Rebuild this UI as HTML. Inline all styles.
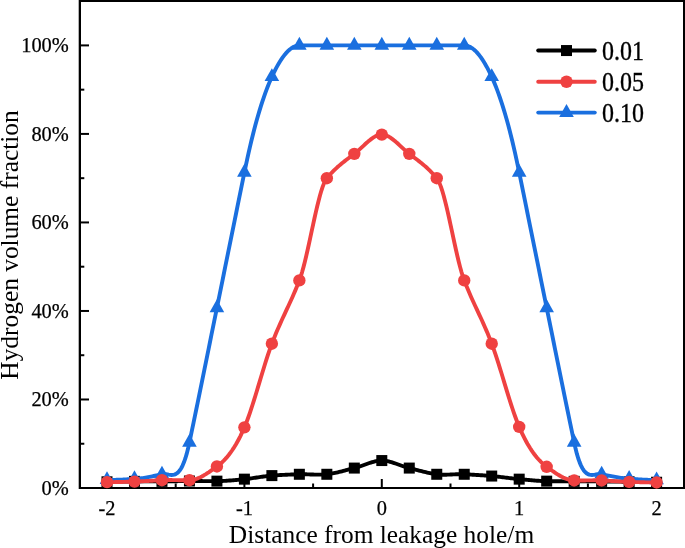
<!DOCTYPE html>
<html><head><meta charset="utf-8"><style>
html,body{margin:0;padding:0;background:#fff;}
svg{display:block;will-change:transform;}
text{font-family:"Liberation Serif", serif;}
</style></head><body>
<svg width="685" height="548" viewBox="0 0 685 548">
<rect width="685" height="548" fill="#fff"/>
<g stroke="#000" stroke-width="2" fill="none"><line x1="80" y1="488.00" x2="89" y2="488.00"/><line x1="80" y1="399.48" x2="89" y2="399.48"/><line x1="80" y1="310.96" x2="89" y2="310.96"/><line x1="80" y1="222.44" x2="89" y2="222.44"/><line x1="80" y1="133.92" x2="89" y2="133.92"/><line x1="80" y1="45.40" x2="89" y2="45.40"/><line x1="80" y1="443.74" x2="84.3" y2="443.74"/><line x1="80" y1="355.22" x2="84.3" y2="355.22"/><line x1="80" y1="266.70" x2="84.3" y2="266.70"/><line x1="80" y1="178.18" x2="84.3" y2="178.18"/><line x1="80" y1="89.66" x2="84.3" y2="89.66"/><line x1="107.00" y1="488" x2="107.00" y2="479"/><line x1="244.40" y1="488" x2="244.40" y2="479"/><line x1="381.80" y1="488" x2="381.80" y2="479"/><line x1="519.20" y1="488" x2="519.20" y2="479"/><line x1="656.60" y1="488" x2="656.60" y2="479"/><line x1="175.70" y1="488" x2="175.70" y2="483.5"/><line x1="313.10" y1="488" x2="313.10" y2="483.5"/><line x1="450.50" y1="488" x2="450.50" y2="483.5"/><line x1="587.90" y1="488" x2="587.90" y2="483.5"/></g>
<g fill="#000">
<rect x="78.7" y="0" width="2.3" height="489"/>
<rect x="683" y="0" width="2" height="489"/>
<rect x="79" y="0" width="606" height="2"/>
<rect x="79" y="487" width="606" height="2"/>
</g>
<g fill="none" stroke-linejoin="round" stroke-linecap="round" stroke-width="3.9">
<path d="M107.00,481.80 L108.37,481.77 L109.75,481.74 L111.12,481.71 L112.50,481.68 L113.87,481.65 L115.24,481.62 L116.62,481.60 L117.99,481.57 L119.37,481.55 L120.74,481.52 L122.11,481.50 L123.49,481.48 L124.86,481.46 L126.24,481.44 L127.61,481.43 L128.98,481.41 L130.36,481.40 L131.73,481.38 L133.11,481.37 L134.48,481.36 L135.85,481.35 L137.23,481.35 L138.60,481.34 L139.98,481.34 L141.35,481.34 L142.72,481.34 L144.10,481.35 L145.47,481.35 L146.85,481.35 L148.22,481.36 L149.59,481.36 L150.97,481.37 L152.34,481.37 L153.72,481.37 L155.09,481.38 L156.46,481.38 L157.84,481.38 L159.21,481.37 L160.59,481.37 L161.96,481.36 L163.33,481.35 L164.71,481.34 L166.08,481.33 L167.46,481.31 L168.83,481.30 L170.20,481.28 L171.58,481.26 L172.95,481.24 L174.33,481.22 L175.70,481.20 L177.07,481.18 L178.45,481.16 L179.82,481.14 L181.20,481.11 L182.57,481.09 L183.94,481.07 L185.32,481.06 L186.69,481.04 L188.07,481.02 L189.44,481.01 L190.81,481.00 L192.19,480.99 L193.56,480.99 L194.94,481.00 L196.31,481.01 L197.68,481.02 L199.06,481.03 L200.43,481.05 L201.81,481.07 L203.18,481.08 L204.55,481.10 L205.93,481.12 L207.30,481.14 L208.68,481.15 L210.05,481.16 L211.42,481.16 L212.80,481.17 L214.17,481.16 L215.55,481.15 L216.92,481.14 L218.29,481.11 L219.67,481.08 L221.04,481.03 L222.42,480.97 L223.79,480.90 L225.16,480.83 L226.54,480.74 L227.91,480.65 L229.29,480.55 L230.66,480.44 L232.03,480.33 L233.41,480.21 L234.78,480.09 L236.16,479.96 L237.53,479.83 L238.90,479.70 L240.28,479.56 L241.65,479.42 L243.03,479.29 L244.40,479.15 L245.77,479.00 L247.15,478.85 L248.52,478.68 L249.90,478.50 L251.27,478.32 L252.64,478.13 L254.02,477.93 L255.39,477.73 L256.77,477.53 L258.14,477.33 L259.51,477.13 L260.89,476.93 L262.26,476.73 L263.64,476.54 L265.01,476.36 L266.38,476.19 L267.76,476.02 L269.13,475.87 L270.51,475.73 L271.88,475.61 L273.25,475.49 L274.63,475.39 L276.00,475.29 L277.38,475.20 L278.75,475.12 L280.12,475.04 L281.50,474.96 L282.87,474.90 L284.25,474.83 L285.62,474.77 L286.99,474.72 L288.37,474.66 L289.74,474.61 L291.12,474.56 L292.49,474.51 L293.86,474.47 L295.24,474.42 L296.61,474.37 L297.99,474.33 L299.36,474.28 L300.73,474.24 L302.11,474.23 L303.48,474.23 L304.86,474.25 L306.23,474.29 L307.60,474.33 L308.98,474.38 L310.35,474.44 L311.73,474.49 L313.10,474.54 L314.47,474.59 L315.85,474.63 L317.22,474.66 L318.60,474.67 L319.97,474.67 L321.34,474.64 L322.72,474.60 L324.09,474.52 L325.47,474.42 L326.84,474.28 L328.21,474.11 L329.59,473.91 L330.96,473.69 L332.34,473.45 L333.71,473.18 L335.08,472.90 L336.46,472.60 L337.83,472.28 L339.21,471.96 L340.58,471.62 L341.95,471.27 L343.33,470.91 L344.70,470.56 L346.08,470.19 L347.45,469.83 L348.82,469.47 L350.20,469.11 L351.57,468.76 L352.95,468.42 L354.32,468.08 L355.69,467.73 L357.07,467.34 L358.44,466.91 L359.82,466.46 L361.19,465.98 L362.56,465.49 L363.94,464.99 L365.31,464.49 L366.69,463.99 L368.06,463.50 L369.43,463.03 L370.81,462.58 L372.18,462.15 L373.56,461.77 L374.93,461.43 L376.30,461.13 L377.68,460.89 L379.05,460.71 L380.43,460.60 L381.80,460.56 L383.17,460.60 L384.55,460.71 L385.92,460.89 L387.30,461.13 L388.67,461.43 L390.04,461.77 L391.42,462.15 L392.79,462.58 L394.17,463.03 L395.54,463.50 L396.91,463.99 L398.29,464.49 L399.66,464.99 L401.04,465.49 L402.41,465.98 L403.78,466.46 L405.16,466.91 L406.53,467.34 L407.91,467.73 L409.28,468.08 L410.65,468.42 L412.03,468.76 L413.40,469.11 L414.78,469.46 L416.15,469.81 L417.52,470.17 L418.90,470.52 L420.27,470.87 L421.65,471.22 L423.02,471.56 L424.39,471.90 L425.77,472.22 L427.14,472.53 L428.52,472.84 L429.89,473.12 L431.26,473.39 L432.64,473.65 L434.01,473.88 L435.39,474.09 L436.76,474.28 L438.13,474.44 L439.51,474.55 L440.88,474.64 L442.26,474.69 L443.63,474.71 L445.00,474.71 L446.38,474.69 L447.75,474.65 L449.13,474.60 L450.50,474.54 L451.87,474.48 L453.25,474.41 L454.62,474.35 L456.00,474.29 L457.37,474.24 L458.74,474.21 L460.12,474.19 L461.49,474.19 L462.87,474.22 L464.24,474.28 L465.61,474.35 L466.99,474.42 L468.36,474.50 L469.74,474.57 L471.11,474.64 L472.48,474.71 L473.86,474.79 L475.23,474.86 L476.61,474.94 L477.98,475.02 L479.35,475.11 L480.73,475.19 L482.10,475.28 L483.48,475.38 L484.85,475.48 L486.22,475.58 L487.60,475.69 L488.97,475.80 L490.35,475.92 L491.72,476.05 L493.09,476.18 L494.47,476.32 L495.84,476.47 L497.22,476.62 L498.59,476.77 L499.96,476.93 L501.34,477.10 L502.71,477.26 L504.09,477.43 L505.46,477.59 L506.83,477.76 L508.21,477.93 L509.58,478.09 L510.96,478.26 L512.33,478.42 L513.70,478.57 L515.08,478.72 L516.45,478.87 L517.83,479.01 L519.20,479.15 L520.57,479.28 L521.95,479.41 L523.32,479.54 L524.70,479.67 L526.07,479.80 L527.44,479.93 L528.82,480.06 L530.19,480.18 L531.57,480.29 L532.94,480.41 L534.31,480.51 L535.69,480.62 L537.06,480.71 L538.44,480.80 L539.81,480.88 L541.18,480.95 L542.56,481.01 L543.93,481.07 L545.31,481.11 L546.68,481.14 L548.05,481.16 L549.43,481.19 L550.80,481.21 L552.18,481.23 L553.55,481.24 L554.92,481.26 L556.30,481.27 L557.67,481.29 L559.05,481.30 L560.42,481.31 L561.79,481.32 L563.17,481.33 L564.54,481.33 L565.92,481.34 L567.29,481.34 L568.66,481.35 L570.04,481.35 L571.41,481.36 L572.79,481.36 L574.16,481.36 L575.53,481.36 L576.91,481.36 L578.28,481.36 L579.66,481.35 L581.03,481.35 L582.40,481.34 L583.78,481.33 L585.15,481.32 L586.53,481.32 L587.90,481.31 L589.27,481.31 L590.65,481.30 L592.02,481.30 L593.40,481.30 L594.77,481.30 L596.14,481.31 L597.52,481.31 L598.89,481.33 L600.27,481.34 L601.64,481.36 L603.01,481.38 L604.39,481.41 L605.76,481.43 L607.14,481.45 L608.51,481.47 L609.88,481.49 L611.26,481.52 L612.63,481.54 L614.01,481.56 L615.38,481.58 L616.75,481.60 L618.13,481.63 L619.50,481.65 L620.88,481.67 L622.25,481.69 L623.62,481.72 L625.00,481.74 L626.37,481.76 L627.75,481.78 L629.12,481.80 L630.49,481.83 L631.87,481.85 L633.24,481.87 L634.62,481.89 L635.99,481.91 L637.36,481.94 L638.74,481.96 L640.11,481.98 L641.49,482.00 L642.86,482.02 L644.23,482.05 L645.61,482.07 L646.98,482.09 L648.36,482.11 L649.73,482.14 L651.10,482.16 L652.48,482.18 L653.85,482.20 L655.23,482.22 L656.60,482.25" stroke="#000000"/>
</g>
<g fill="#000000"><rect x="101.50" y="476.30" width="11.0" height="11.0"/><rect x="128.98" y="475.86" width="11.0" height="11.0"/><rect x="156.46" y="475.86" width="11.0" height="11.0"/><rect x="183.94" y="475.51" width="11.0" height="11.0"/><rect x="211.42" y="475.64" width="11.0" height="11.0"/><rect x="238.90" y="473.65" width="11.0" height="11.0"/><rect x="266.38" y="470.11" width="11.0" height="11.0"/><rect x="293.86" y="468.78" width="11.0" height="11.0"/><rect x="321.34" y="468.78" width="11.0" height="11.0"/><rect x="348.82" y="462.58" width="11.0" height="11.0"/><rect x="376.30" y="455.06" width="11.0" height="11.0"/><rect x="403.78" y="462.58" width="11.0" height="11.0"/><rect x="431.26" y="468.78" width="11.0" height="11.0"/><rect x="458.74" y="468.78" width="11.0" height="11.0"/><rect x="486.22" y="470.55" width="11.0" height="11.0"/><rect x="513.70" y="473.65" width="11.0" height="11.0"/><rect x="541.18" y="475.64" width="11.0" height="11.0"/><rect x="568.66" y="475.86" width="11.0" height="11.0"/><rect x="596.14" y="475.86" width="11.0" height="11.0"/><rect x="623.62" y="476.30" width="11.0" height="11.0"/><rect x="651.10" y="476.75" width="11.0" height="11.0"/></g>
<g fill="none" stroke-linejoin="round" stroke-linecap="round" stroke-width="3.9">
<path d="M107.00,479.81 L108.37,479.85 L109.75,479.88 L111.12,479.89 L112.50,479.89 L113.87,479.88 L115.24,479.85 L116.62,479.82 L117.99,479.77 L119.37,479.72 L120.74,479.66 L122.11,479.60 L123.49,479.53 L124.86,479.45 L126.24,479.38 L127.61,479.30 L128.98,479.22 L130.36,479.14 L131.73,479.07 L133.11,479.00 L134.48,478.93 L135.85,478.85 L137.23,478.74 L138.60,478.61 L139.98,478.45 L141.35,478.27 L142.72,478.08 L144.10,477.87 L145.47,477.64 L146.85,477.39 L148.22,477.14 L149.59,476.87 L150.97,476.59 L152.34,476.31 L153.72,476.02 L155.09,475.73 L156.46,475.44 L157.84,475.14 L159.21,474.85 L160.59,474.56 L161.96,474.28 L163.33,474.11 L164.71,474.11 L166.08,474.25 L167.46,474.45 L168.83,474.67 L170.20,474.84 L171.58,474.93 L172.95,474.86 L174.33,474.59 L175.70,474.06 L177.07,473.21 L178.45,472.00 L179.82,470.36 L181.20,468.25 L182.57,465.59 L183.94,462.36 L185.32,458.47 L186.69,453.89 L188.07,448.56 L189.44,442.41 L190.81,435.83 L192.19,429.22 L193.56,422.59 L194.94,415.94 L196.31,409.26 L197.68,402.56 L199.06,395.85 L200.43,389.12 L201.81,382.38 L203.18,375.62 L204.55,368.86 L205.93,362.08 L207.30,355.31 L208.68,348.52 L210.05,341.74 L211.42,334.96 L212.80,328.18 L214.17,321.40 L215.55,314.63 L216.92,307.86 L218.29,301.10 L219.67,294.33 L221.04,287.56 L222.42,280.79 L223.79,274.01 L225.16,267.23 L226.54,260.45 L227.91,253.67 L229.29,246.89 L230.66,240.11 L232.03,233.33 L233.41,226.55 L234.78,219.77 L236.16,212.99 L237.53,206.22 L238.90,199.45 L240.28,192.69 L241.65,185.93 L243.03,179.17 L244.40,172.43 L245.77,165.79 L247.15,159.36 L248.52,153.14 L249.90,147.13 L251.27,141.32 L252.64,135.71 L254.02,130.30 L255.39,125.08 L256.77,120.06 L258.14,115.23 L259.51,110.59 L260.89,106.13 L262.26,101.85 L263.64,97.76 L265.01,93.84 L266.38,90.10 L267.76,86.53 L269.13,83.13 L270.51,79.89 L271.88,76.82 L273.25,73.90 L274.63,71.11 L276.00,68.44 L277.38,65.91 L278.75,63.52 L280.12,61.26 L281.50,59.14 L282.87,57.16 L284.25,55.33 L285.62,53.65 L286.99,52.11 L288.37,50.73 L289.74,49.50 L291.12,48.42 L292.49,47.51 L293.86,46.76 L295.24,46.17 L296.61,45.74 L297.99,45.49 L299.36,45.40 L300.73,45.40 L302.11,45.40 L303.48,45.40 L304.86,45.40 L306.23,45.40 L307.60,45.40 L308.98,45.40 L310.35,45.40 L311.73,45.40 L313.10,45.40 L314.47,45.40 L315.85,45.40 L317.22,45.40 L318.60,45.40 L319.97,45.40 L321.34,45.40 L322.72,45.40 L324.09,45.40 L325.47,45.40 L326.84,45.40 L328.21,45.40 L329.59,45.40 L330.96,45.40 L332.34,45.40 L333.71,45.40 L335.08,45.40 L336.46,45.40 L337.83,45.40 L339.21,45.40 L340.58,45.40 L341.95,45.40 L343.33,45.40 L344.70,45.40 L346.08,45.40 L347.45,45.40 L348.82,45.40 L350.20,45.40 L351.57,45.40 L352.95,45.40 L354.32,45.40 L355.69,45.40 L357.07,45.40 L358.44,45.40 L359.82,45.40 L361.19,45.40 L362.56,45.40 L363.94,45.40 L365.31,45.40 L366.69,45.40 L368.06,45.40 L369.43,45.40 L370.81,45.40 L372.18,45.40 L373.56,45.40 L374.93,45.40 L376.30,45.40 L377.68,45.40 L379.05,45.40 L380.43,45.40 L381.80,45.40 L383.17,45.40 L384.55,45.40 L385.92,45.40 L387.30,45.40 L388.67,45.40 L390.04,45.40 L391.42,45.40 L392.79,45.40 L394.17,45.40 L395.54,45.40 L396.91,45.40 L398.29,45.40 L399.66,45.40 L401.04,45.40 L402.41,45.40 L403.78,45.40 L405.16,45.40 L406.53,45.40 L407.91,45.40 L409.28,45.40 L410.65,45.40 L412.03,45.40 L413.40,45.40 L414.78,45.40 L416.15,45.40 L417.52,45.40 L418.90,45.40 L420.27,45.40 L421.65,45.40 L423.02,45.40 L424.39,45.40 L425.77,45.40 L427.14,45.40 L428.52,45.40 L429.89,45.40 L431.26,45.40 L432.64,45.40 L434.01,45.40 L435.39,45.40 L436.76,45.40 L438.13,45.40 L439.51,45.40 L440.88,45.40 L442.26,45.40 L443.63,45.40 L445.00,45.40 L446.38,45.40 L447.75,45.40 L449.13,45.40 L450.50,45.40 L451.87,45.40 L453.25,45.40 L454.62,45.40 L456.00,45.40 L457.37,45.40 L458.74,45.40 L460.12,45.40 L461.49,45.40 L462.87,45.40 L464.24,45.40 L465.61,45.49 L466.99,45.74 L468.36,46.17 L469.74,46.76 L471.11,47.51 L472.48,48.42 L473.86,49.50 L475.23,50.73 L476.61,52.11 L477.98,53.65 L479.35,55.33 L480.73,57.16 L482.10,59.14 L483.48,61.26 L484.85,63.52 L486.22,65.91 L487.60,68.44 L488.97,71.11 L490.35,73.90 L491.72,76.82 L493.09,79.89 L494.47,83.13 L495.84,86.53 L497.22,90.10 L498.59,93.84 L499.96,97.76 L501.34,101.85 L502.71,106.13 L504.09,110.59 L505.46,115.23 L506.83,120.06 L508.21,125.08 L509.58,130.30 L510.96,135.71 L512.33,141.32 L513.70,147.13 L515.08,153.14 L516.45,159.36 L517.83,165.79 L519.20,172.43 L520.57,179.17 L521.95,185.93 L523.32,192.69 L524.70,199.45 L526.07,206.22 L527.44,212.99 L528.82,219.77 L530.19,226.55 L531.57,233.33 L532.94,240.11 L534.31,246.89 L535.69,253.67 L537.06,260.45 L538.44,267.23 L539.81,274.01 L541.18,280.79 L542.56,287.56 L543.93,294.33 L545.31,301.10 L546.68,307.86 L548.05,314.63 L549.43,321.40 L550.80,328.17 L552.18,334.96 L553.55,341.74 L554.92,348.52 L556.30,355.30 L557.67,362.08 L559.05,368.85 L560.42,375.62 L561.79,382.37 L563.17,389.12 L564.54,395.84 L565.92,402.56 L567.29,409.26 L568.66,415.93 L570.04,422.59 L571.41,429.22 L572.79,435.83 L574.16,442.41 L575.53,448.56 L576.91,453.90 L578.28,458.48 L579.66,462.37 L581.03,465.62 L582.40,468.27 L583.78,470.40 L585.15,472.04 L586.53,473.26 L587.90,474.11 L589.27,474.64 L590.65,474.92 L592.02,474.99 L593.40,474.90 L594.77,474.72 L596.14,474.50 L597.52,474.29 L598.89,474.15 L600.27,474.12 L601.64,474.28 L603.01,474.54 L604.39,474.81 L605.76,475.08 L607.14,475.36 L608.51,475.63 L609.88,475.90 L611.26,476.17 L612.63,476.43 L614.01,476.69 L615.38,476.94 L616.75,477.18 L618.13,477.41 L619.50,477.63 L620.88,477.84 L622.25,478.03 L623.62,478.20 L625.00,478.36 L626.37,478.50 L627.75,478.61 L629.12,478.71 L630.49,478.79 L631.87,478.88 L633.24,478.97 L634.62,479.06 L635.99,479.15 L637.36,479.25 L638.74,479.34 L640.11,479.43 L641.49,479.52 L642.86,479.60 L644.23,479.68 L645.61,479.76 L646.98,479.82 L648.36,479.88 L649.73,479.93 L651.10,479.98 L652.48,480.01 L653.85,480.03 L655.23,480.04 L656.60,480.03" stroke="#1A6FDF"/>
</g>
<g fill="#1A6FDF"><path d="M107.00,471.21 L114.30,484.11 L99.70,484.11 Z"/><path d="M134.48,470.33 L141.78,483.23 L127.18,483.23 Z"/><path d="M161.96,465.68 L169.26,478.58 L154.66,478.58 Z"/><path d="M189.44,433.81 L196.74,446.71 L182.14,446.71 Z"/><path d="M216.92,299.26 L224.22,312.16 L209.62,312.16 Z"/><path d="M244.40,163.83 L251.70,176.73 L237.10,176.73 Z"/><path d="M271.88,68.22 L279.18,81.12 L264.58,81.12 Z"/><path d="M299.36,36.80 L306.66,49.70 L292.06,49.70 Z"/><path d="M326.84,36.80 L334.14,49.70 L319.54,49.70 Z"/><path d="M354.32,36.80 L361.62,49.70 L347.02,49.70 Z"/><path d="M381.80,36.80 L389.10,49.70 L374.50,49.70 Z"/><path d="M409.28,36.80 L416.58,49.70 L401.98,49.70 Z"/><path d="M436.76,36.80 L444.06,49.70 L429.46,49.70 Z"/><path d="M464.24,36.80 L471.54,49.70 L456.94,49.70 Z"/><path d="M491.72,68.22 L499.02,81.12 L484.42,81.12 Z"/><path d="M519.20,163.83 L526.50,176.73 L511.90,176.73 Z"/><path d="M546.68,299.26 L553.98,312.16 L539.38,312.16 Z"/><path d="M574.16,433.81 L581.46,446.71 L566.86,446.71 Z"/><path d="M601.64,465.68 L608.94,478.58 L594.34,478.58 Z"/><path d="M629.12,470.11 L636.42,483.01 L621.82,483.01 Z"/><path d="M656.60,471.43 L663.90,484.33 L649.30,484.33 Z"/></g>
<g fill="none" stroke-linejoin="round" stroke-linecap="round" stroke-width="3.9">
<path d="M107.00,482.16 L108.37,482.15 L109.75,482.14 L111.12,482.12 L112.50,482.10 L113.87,482.08 L115.24,482.06 L116.62,482.04 L117.99,482.01 L119.37,481.99 L120.74,481.96 L122.11,481.93 L123.49,481.89 L124.86,481.86 L126.24,481.82 L127.61,481.79 L128.98,481.75 L130.36,481.71 L131.73,481.67 L133.11,481.63 L134.48,481.58 L135.85,481.54 L137.23,481.49 L138.60,481.43 L139.98,481.37 L141.35,481.31 L142.72,481.24 L144.10,481.17 L145.47,481.10 L146.85,481.03 L148.22,480.95 L149.59,480.87 L150.97,480.80 L152.34,480.72 L153.72,480.64 L155.09,480.57 L156.46,480.49 L157.84,480.42 L159.21,480.35 L160.59,480.28 L161.96,480.21 L163.33,480.15 L164.71,480.11 L166.08,480.08 L167.46,480.07 L168.83,480.06 L170.20,480.06 L171.58,480.07 L172.95,480.09 L174.33,480.11 L175.70,480.14 L177.07,480.16 L178.45,480.19 L179.82,480.21 L181.20,480.23 L182.57,480.25 L183.94,480.26 L185.32,480.26 L186.69,480.26 L188.07,480.24 L189.44,480.21 L190.81,480.13 L192.19,479.95 L193.56,479.68 L194.94,479.32 L196.31,478.89 L197.68,478.38 L199.06,477.81 L200.43,477.17 L201.81,476.47 L203.18,475.73 L204.55,474.93 L205.93,474.09 L207.30,473.21 L208.68,472.31 L210.05,471.37 L211.42,470.42 L212.80,469.45 L214.17,468.46 L215.55,467.48 L216.92,466.49 L218.29,465.47 L219.67,464.37 L221.04,463.20 L222.42,461.94 L223.79,460.60 L225.16,459.16 L226.54,457.64 L227.91,456.01 L229.29,454.28 L230.66,452.44 L232.03,450.50 L233.41,448.44 L234.78,446.26 L236.16,443.96 L237.53,441.53 L238.90,438.97 L240.28,436.28 L241.65,433.45 L243.03,430.48 L244.40,427.36 L245.77,424.05 L247.15,420.51 L248.52,416.76 L249.90,412.82 L251.27,408.73 L252.64,404.50 L254.02,400.15 L255.39,395.71 L256.77,391.21 L258.14,386.66 L259.51,382.08 L260.89,377.51 L262.26,372.96 L263.64,368.46 L265.01,364.03 L266.38,359.69 L267.76,355.46 L269.13,351.38 L270.51,347.45 L271.88,343.71 L273.25,340.14 L274.63,336.69 L276.00,333.34 L277.38,330.10 L278.75,326.93 L280.12,323.84 L281.50,320.80 L282.87,317.80 L284.25,314.84 L285.62,311.89 L286.99,308.94 L288.37,305.99 L289.74,303.01 L291.12,300.00 L292.49,296.93 L293.86,293.81 L295.24,290.61 L296.61,287.32 L297.99,283.93 L299.36,280.42 L300.73,276.54 L302.11,272.08 L303.48,267.11 L304.86,261.72 L306.23,255.97 L307.60,249.95 L308.98,243.72 L310.35,237.36 L311.73,230.94 L313.10,224.55 L314.47,218.25 L315.85,212.12 L317.22,206.24 L318.60,200.67 L319.97,195.50 L321.34,190.80 L322.72,186.64 L324.09,183.10 L325.47,180.26 L326.84,178.18 L328.21,176.55 L329.59,174.99 L330.96,173.49 L332.34,172.05 L333.71,170.67 L335.08,169.34 L336.46,168.06 L337.83,166.82 L339.21,165.62 L340.58,164.46 L341.95,163.32 L343.33,162.22 L344.70,161.14 L346.08,160.07 L347.45,159.02 L348.82,157.98 L350.20,156.95 L351.57,155.91 L352.95,154.88 L354.32,153.84 L355.69,152.75 L357.07,151.60 L358.44,150.40 L359.82,149.15 L361.19,147.88 L362.56,146.60 L363.94,145.32 L365.31,144.05 L366.69,142.80 L368.06,141.59 L369.43,140.44 L370.81,139.35 L372.18,138.34 L373.56,137.42 L374.93,136.61 L376.30,135.92 L377.68,135.35 L379.05,134.93 L380.43,134.67 L381.80,134.58 L383.17,134.67 L384.55,134.93 L385.92,135.35 L387.30,135.92 L388.67,136.61 L390.04,137.42 L391.42,138.34 L392.79,139.35 L394.17,140.44 L395.54,141.59 L396.91,142.80 L398.29,144.05 L399.66,145.32 L401.04,146.60 L402.41,147.88 L403.78,149.15 L405.16,150.40 L406.53,151.60 L407.91,152.75 L409.28,153.84 L410.65,154.88 L412.03,155.91 L413.40,156.95 L414.78,157.98 L416.15,159.02 L417.52,160.07 L418.90,161.14 L420.27,162.22 L421.65,163.32 L423.02,164.46 L424.39,165.62 L425.77,166.82 L427.14,168.06 L428.52,169.34 L429.89,170.67 L431.26,172.05 L432.64,173.49 L434.01,174.99 L435.39,176.55 L436.76,178.18 L438.13,180.26 L439.51,183.10 L440.88,186.64 L442.26,190.80 L443.63,195.51 L445.00,200.68 L446.38,206.25 L447.75,212.13 L449.13,218.26 L450.50,224.57 L451.87,230.96 L453.25,237.38 L454.62,243.74 L456.00,249.97 L457.37,255.99 L458.74,261.74 L460.12,267.13 L461.49,272.09 L462.87,276.54 L464.24,280.42 L465.61,283.92 L466.99,287.31 L468.36,290.59 L469.74,293.79 L471.11,296.92 L472.48,299.98 L473.86,303.00 L475.23,305.97 L476.61,308.93 L477.98,311.88 L479.35,314.83 L480.73,317.80 L482.10,320.80 L483.48,323.84 L484.85,326.94 L486.22,330.10 L487.60,333.35 L488.97,336.69 L490.35,340.14 L491.72,343.71 L493.09,347.44 L494.47,351.35 L495.84,355.42 L497.22,359.61 L498.59,363.92 L499.96,368.31 L501.34,372.78 L502.71,377.29 L504.09,381.82 L505.46,386.35 L506.83,390.86 L508.21,395.33 L509.58,399.74 L510.96,404.06 L512.33,408.27 L513.70,412.35 L515.08,416.27 L516.45,420.03 L517.83,423.58 L519.20,426.92 L520.57,430.07 L521.95,433.08 L523.32,435.94 L524.70,438.67 L526.07,441.27 L527.44,443.74 L528.82,446.08 L530.19,448.30 L531.57,450.41 L532.94,452.39 L534.31,454.27 L535.69,456.04 L537.06,457.71 L538.44,459.27 L539.81,460.74 L541.18,462.12 L542.56,463.40 L543.93,464.60 L545.31,465.72 L546.68,466.76 L548.05,467.76 L549.43,468.75 L550.80,469.74 L552.18,470.72 L553.55,471.68 L554.92,472.61 L556.30,473.52 L557.67,474.40 L559.05,475.23 L560.42,476.03 L561.79,476.77 L563.17,477.46 L564.54,478.10 L565.92,478.67 L567.29,479.17 L568.66,479.60 L570.04,479.95 L571.41,480.21 L572.79,480.39 L574.16,480.48 L575.53,480.50 L576.91,480.52 L578.28,480.53 L579.66,480.52 L581.03,480.51 L582.40,480.50 L583.78,480.47 L585.15,480.45 L586.53,480.42 L587.90,480.40 L589.27,480.37 L590.65,480.35 L592.02,480.33 L593.40,480.32 L594.77,480.32 L596.14,480.33 L597.52,480.34 L598.89,480.37 L600.27,480.42 L601.64,480.48 L603.01,480.54 L604.39,480.62 L605.76,480.69 L607.14,480.77 L608.51,480.84 L609.88,480.92 L611.26,481.00 L612.63,481.08 L614.01,481.16 L615.38,481.24 L616.75,481.32 L618.13,481.39 L619.50,481.47 L620.88,481.54 L622.25,481.61 L623.62,481.67 L625.00,481.74 L626.37,481.79 L627.75,481.84 L629.12,481.89 L630.49,481.94 L631.87,481.98 L633.24,482.02 L634.62,482.06 L635.99,482.10 L637.36,482.14 L638.74,482.17 L640.11,482.21 L641.49,482.24 L642.86,482.27 L644.23,482.30 L645.61,482.33 L646.98,482.35 L648.36,482.38 L649.73,482.40 L651.10,482.42 L652.48,482.43 L653.85,482.45 L655.23,482.46 L656.60,482.47" stroke="#EF4141"/>
</g>
<g fill="#EF4141"><circle cx="107.00" cy="482.16" r="6.20"/><circle cx="134.48" cy="481.58" r="6.20"/><circle cx="161.96" cy="480.21" r="6.20"/><circle cx="189.44" cy="480.21" r="6.20"/><circle cx="216.92" cy="466.49" r="6.20"/><circle cx="244.40" cy="427.36" r="6.20"/><circle cx="271.88" cy="343.71" r="6.20"/><circle cx="299.36" cy="280.42" r="6.20"/><circle cx="326.84" cy="178.18" r="6.20"/><circle cx="354.32" cy="153.84" r="6.20"/><circle cx="381.80" cy="134.58" r="6.20"/><circle cx="409.28" cy="153.84" r="6.20"/><circle cx="436.76" cy="178.18" r="6.20"/><circle cx="464.24" cy="280.42" r="6.20"/><circle cx="491.72" cy="343.71" r="6.20"/><circle cx="519.20" cy="426.92" r="6.20"/><circle cx="546.68" cy="466.76" r="6.20"/><circle cx="574.16" cy="480.48" r="6.20"/><circle cx="601.64" cy="480.48" r="6.20"/><circle cx="629.12" cy="481.89" r="6.20"/><circle cx="656.60" cy="482.47" r="6.20"/></g>
<g font-size="20.4" fill="#000" stroke="#000" stroke-width="0.25"><text x="68.8" y="495.00" text-anchor="end">0%</text><text x="68.8" y="406.48" text-anchor="end">20%</text><text x="68.8" y="317.96" text-anchor="end">40%</text><text x="68.8" y="229.44" text-anchor="end">60%</text><text x="68.8" y="140.92" text-anchor="end">80%</text><text x="68.8" y="52.40" text-anchor="end">100%</text><text x="107.00" y="514.7" text-anchor="middle">-2</text><text x="244.40" y="514.7" text-anchor="middle">-1</text><text x="381.80" y="514.7" text-anchor="middle">0</text><text x="519.20" y="514.7" text-anchor="middle">1</text><text x="656.60" y="514.7" text-anchor="middle">2</text></g>
<text x="381.5" y="542.6" font-size="25.4" text-anchor="middle">Distance from leakage hole/m</text>
<text transform="translate(17.5,245) rotate(-90)" font-size="25.4" text-anchor="middle">Hydrogen volume fraction</text>
<line x1="538.2" y1="50.55" x2="594.8" y2="50.55" stroke="#000000" stroke-width="3.9" stroke-linecap="round"/><rect x="561.00" y="45.05" width="11.0" height="11.0" fill="#000000"/><text transform="translate(602,59.80) scale(1,1.12)" font-size="24" stroke="#000" stroke-width="0.3">0.01</text><line x1="538.2" y1="81.75" x2="594.8" y2="81.75" stroke="#EF4141" stroke-width="3.9" stroke-linecap="round"/><circle cx="566.50" cy="81.75" r="6.20" fill="#EF4141"/><text transform="translate(602,91.10) scale(1,1.12)" font-size="24" stroke="#000" stroke-width="0.3">0.05</text><line x1="538.2" y1="112.60" x2="594.8" y2="112.60" stroke="#1A6FDF" stroke-width="3.9" stroke-linecap="round"/><path d="M566.50,104.00 L573.80,116.90 L559.20,116.90 Z" fill="#1A6FDF"/><text transform="translate(602,121.50) scale(1,1.12)" font-size="24" stroke="#000" stroke-width="0.3">0.10</text>
</svg>
</body></html>
